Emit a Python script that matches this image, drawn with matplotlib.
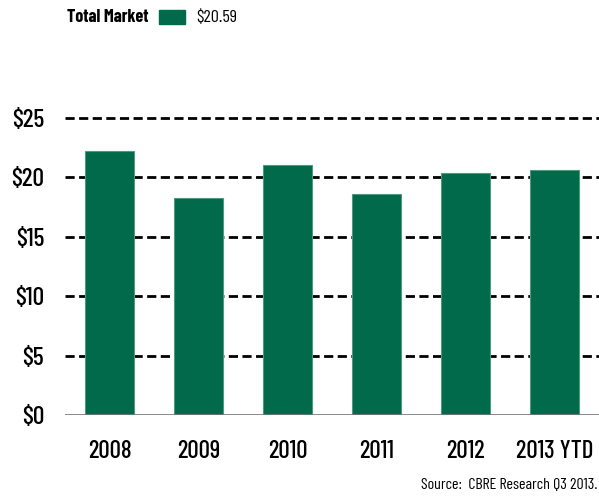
import matplotlib.pyplot as plt

years = ['2008', '2009', '2010', '2011', '2012', '2013 YTD']
prices = [22.25, 18.24, 21.02, 18.58, 20.37, 20.59]
yticks = [0, 5, 10, 15, 20, 25]
ylabels = ['$0', '$5', '$10', '$15', '$20', '$25']

green = '#006a4a'
fam = ['Barlow Condensed', 'DejaVu Sans']

fig = plt.figure(figsize=(5.99, 4.96), dpi=100)
ax = fig.add_axes([65 / 599, 1 - 415 / 496, 534 / 599, (415 - 118) / 496])

x = range(len(years))
ax.bar(x, prices, width=0.54, color=green, edgecolor='#4f9a7c', linewidth=0.8, zorder=3)

# dashed grid lines behind the bars
for t in yticks[1:]:
    ax.axhline(t, color='black', ls=(0, (3.3, 1.6)), lw=2, zorder=1, clip_on=False)
ax.axhline(0, color='#777777', lw=1.2, zorder=4)

ax.set_xlim(-0.5, len(years) - 0.5)
ax.set_ylim(0, 25)
ax.set_yticks(yticks)
ax.set_yticklabels(ylabels, family=fam, fontsize=18.5, fontweight='medium')
ax.set_xticks(list(x))
ax.set_xticklabels(years, family=fam, fontsize=18, fontweight='medium')
ax.tick_params(length=0, pad=18)
ax.tick_params(axis='y', pad=15)
for s in ax.spines.values():
    s.set_visible(False)

# legend at top
fig.text(67 / 599, 1 - 17 / 496, 'Total Market', family=fam, fontsize=13,
         fontweight='bold', va='center')
fig.patches.append(plt.Rectangle((159 / 599, 1 - 24 / 496), 26 / 599, 14 / 496,
                                 color=green, transform=fig.transFigure))
fig.text(196 / 599, 1 - 17 / 496, '$20.59', family=fam, fontsize=13, va='center')

fig.text(597 / 599, 1 - 485 / 496, 'Source:  CBRE Research Q3 2013.', family=fam,
         fontsize=11.5, ha='right', va='center')

fig.savefig('out.png', dpi=100)
